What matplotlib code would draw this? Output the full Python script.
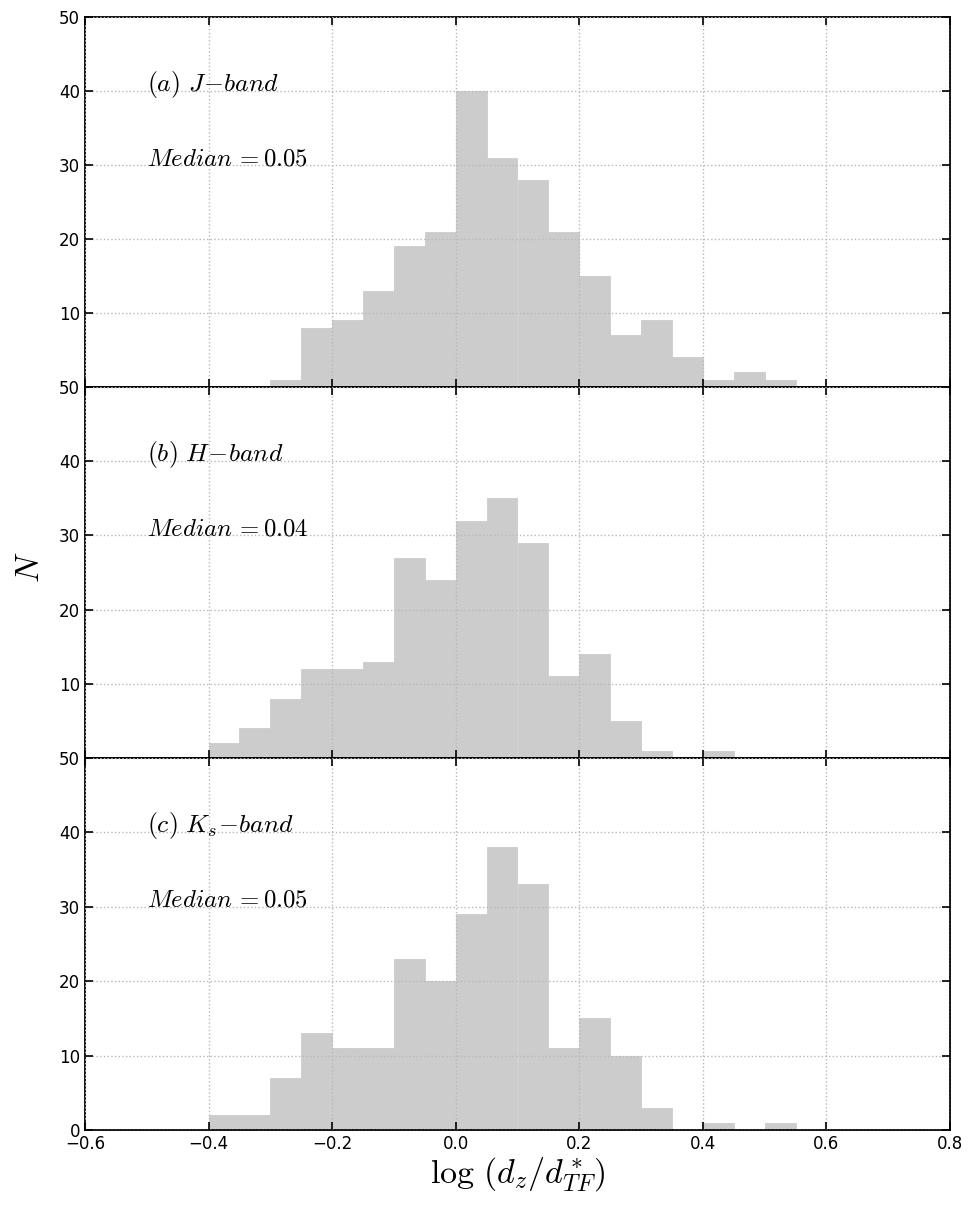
import matplotlib
matplotlib.use('Agg')
import matplotlib.pyplot as plt
import numpy as np

plt.rcParams['mathtext.fontset'] = 'cm'
plt.rcParams['font.family'] = 'DejaVu Sans'

# bin left edges and counts (bin width 0.05)
bin_width = 0.05
j_edges = np.round(np.arange(-0.30, 0.55, 0.05), 2)
j_counts = [1, 8, 9, 13, 19, 21, 40, 31, 28, 21, 15, 7, 9, 4, 1, 2, 1]

h_edges = np.round(np.arange(-0.40, 0.45, 0.05), 2)
h_counts = [2, 4, 8, 12, 12, 13, 27, 24, 32, 35, 29, 11, 14, 5, 1, 0, 1]

k_edges = np.round(np.arange(-0.40, 0.55, 0.05), 2)
k_counts = [2, 2, 7, 13, 11, 11, 23, 20, 29, 38, 33, 11, 15, 10, 3, 0, 1, 0, 1]

labels = [r'$(a)\ J\!-\!band$', r'$(b)\ H\!-\!band$', r'$(c)\ K_s\!-\!band$']
medians = ['0.05', '0.04', '0.05']
edges_list = [j_edges, h_edges, k_edges]
counts_list = [j_counts, h_counts, k_counts]

fig = plt.figure(figsize=(9.73, 12.06), dpi=100)
left, right = 85 / 973, 950 / 973
tops = [17, 387, 758]
bots = [387, 758, 1130]

axes = []
for i in range(3):
    t = 1 - tops[i] / 1206
    b = 1 - bots[i] / 1206
    ax = fig.add_axes([left, b, right - left, t - b])
    axes.append(ax)
    ax.bar(edges_list[i], counts_list[i], width=bin_width, align='edge',
           color='#cccccc', edgecolor='#cccccc', linewidth=0.6)
    ax.set_xlim(-0.6, 0.8)
    ax.set_ylim(0, 50)
    if i < 2:
        ax.set_yticks(np.arange(10, 51, 10))
    else:
        ax.set_yticks(np.arange(0, 51, 10))
    ax.set_xticks(np.arange(-0.6, 0.81, 0.2))
    ax.set_axisbelow(False)
    ax.grid(True, linestyle=':', color='#b8b8b8', linewidth=1.0)
    ax.tick_params(direction='in', top=True, right=True, length=6,
                   width=1.2, labelsize=12)
    for s in ax.spines.values():
        s.set_linewidth(1.3)
    ax.text(-0.5, 40, labels[i], fontsize=18.5, va='baseline')
    ax.text(-0.5, 30, r'$Median\,{=}' + medians[i] + '$', fontsize=17.8,
            va='baseline')
    if i < 2:
        ax.tick_params(labelbottom=False)

axes[2].set_xticklabels(['\u22120.6', '\u22120.4', '\u22120.2', '0.0', '0.2', '0.4', '0.6', '0.8'])
axes[2].set_xlabel(r'$\log\,(d_z/d_{TF}^*)$', fontsize=24.5, labelpad=2)
fig.text(0.03, 0.53, r'$N$', fontsize=24, rotation=90, va='center', ha='center')

fig.savefig('out.png', dpi=100)
